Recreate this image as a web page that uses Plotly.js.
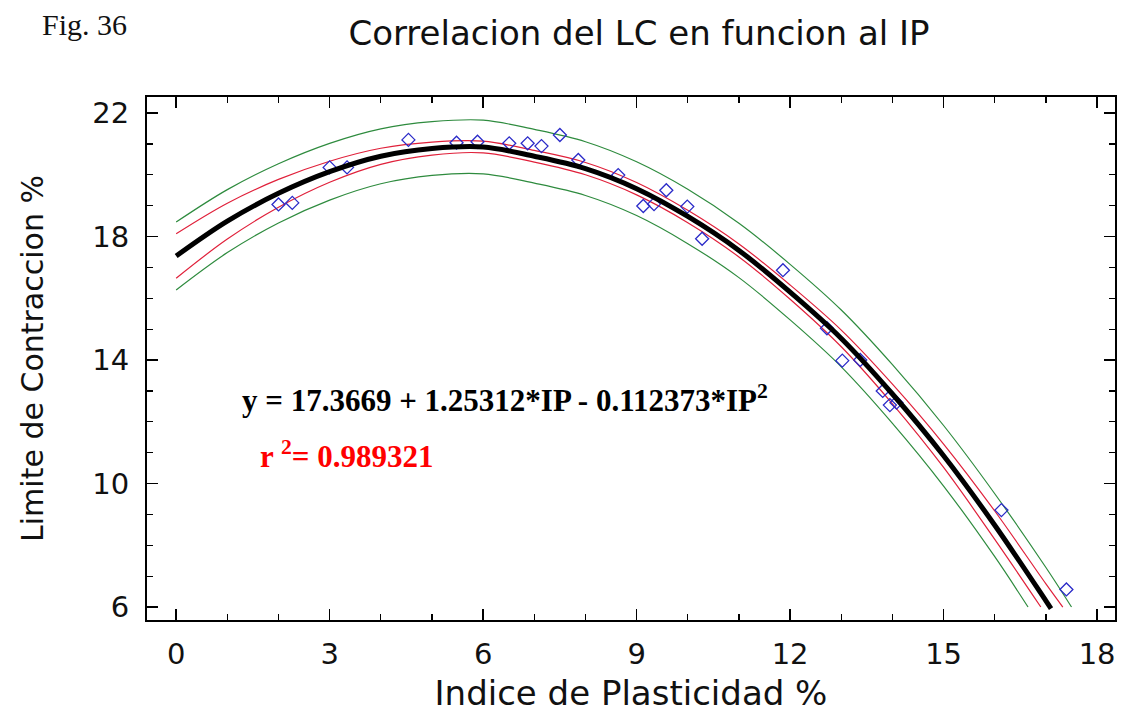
<!DOCTYPE html>
<html>
<head>
<meta charset="utf-8">
<script src="https://cdn.plot.ly/plotly-3.0.1.min.js"></script>
<style>html,body{margin:0;padding:0;background:#fff;}#chart{width:1136px;height:718px;}</style>
</head>
<body>
<div id="chart"></div>
<script>
// Observed data points (IP %, LC %)
const ptsIP = [2.0, 2.27, 3.0, 3.34, 4.54, 5.48, 5.89, 6.51, 6.87, 7.14, 7.5, 7.86, 8.64, 9.13, 9.34, 9.58, 9.99, 10.28, 11.86, 12.72, 13.02, 13.37, 13.81, 13.95, 14.08, 16.13, 17.4];
const ptsLC = [19.04, 19.09, 20.24, 20.24, 21.13, 21.04, 21.07, 21.02, 21.02, 20.93, 21.29, 20.48, 19.99, 18.99, 19.05, 19.5, 18.97, 17.93, 16.91, 15.03, 13.98, 14.0, 13.0, 12.54, 12.62, 9.14, 6.57];

// Fitted curve
const fitX = [0,1,2,3,4,5,6,7,8,9,10,11,12,13,14,15,16,17,17.1];
const fitY = [17.37,18.5,19.4,20.1,20.6,20.85,20.9,20.6,20.2,19.55,18.65,17.55,16.2,14.7,12.9,10.9,8.65,6.2,5.95];

// Confidence limits (red)
const confUpX = [0,1,2,3,4,5,6,7,8,9,10,11,12,13,14,15,16,17,17.33];
const confUpY = [18.09,19.08,19.85,20.44,20.86,21.06,21.09,20.79,20.4,19.75,18.85,17.76,16.43,14.97,13.22,11.28,9.11,6.75,6.0];
const confLoX = [0,1,2,3,4,5,6,7,8,9,10,11,12,13,14,15,16,16.9];
const confLoY = [16.65,17.92,18.95,19.76,20.34,20.64,20.71,20.41,20.0,19.35,18.45,17.34,15.97,14.43,12.58,10.52,8.19,6.0];

// Prediction limits (green)
const predUpX = [0,1,2,3,4,5,6,7,8,9,10,11,12,13,14,15,16,17,17.5];
const predUpY = [18.47,19.52,20.36,21.02,21.49,21.72,21.77,21.47,21.07,20.42,19.53,18.43,17.1,15.62,13.85,11.88,9.67,7.28,6.0];
const predLoX = [0,1,2,3,4,5,6,7,8,9,10,11,12,13,14,15,16,16.65];
const predLoY = [16.27,17.48,18.44,19.18,19.71,19.98,20.03,19.73,19.33,18.68,17.77,16.67,15.3,13.78,11.95,9.92,7.63,6.0];

const xTicks = [0,3,6,9,12,15,18];
const yTicks = [6,10,14,18,22];

const green = '#2e8b3e';
const red = '#e0203a';

const traces = [
  {x: predUpX, y: predUpY, mode:'lines', line:{color:green, width:1.2, shape:'spline'}, hoverinfo:'skip'},
  {x: predLoX, y: predLoY, mode:'lines', line:{color:green, width:1.2, shape:'spline'}, hoverinfo:'skip'},
  {x: confUpX, y: confUpY, mode:'lines', line:{color:red, width:1.2, shape:'spline'}, hoverinfo:'skip'},
  {x: confLoX, y: confLoY, mode:'lines', line:{color:red, width:1.2, shape:'spline'}, hoverinfo:'skip'},
  {x: ptsIP, y: ptsLC, mode:'markers', marker:{symbol:'diamond-open', size:10, color:'#2a2ac8', line:{width:1.3, color:'#2a2ac8'}}},
  {x: fitX, y: fitY, mode:'lines', line:{color:'#000', width:5, shape:'spline'}, hoverinfo:'skip'}
];

const fam = 'DejaVu Sans, Arial, sans-serif';
const tickFont = {family:fam, size:29, color:'#111'};

const layout = {
  width:1136, height:718,
  paper_bgcolor:'#fff', plot_bgcolor:'#fff',
  showlegend:false,
  margin:{l:147, r:21, t:97, b:98},
  title:{text:'Correlacion del LC en funcion al IP', font:{family:fam, size:34, color:'#111'}, x:0.5625, xanchor:'center', y:0.954, yanchor:'middle'},
  xaxis:{
    range:[-0.57, 18.35], tickvals:xTicks, ticktext:xTicks.map(String),
    ticks:'inside', ticklen:11, tickwidth:1.5, tickcolor:'#000',
    showline:true, linecolor:'#000', linewidth:2, mirror:'allticks',
    showgrid:false, zeroline:false,
    minor:{dtick:1, tick0:0, ticks:'inside', ticklen:6, tickwidth:1.2, tickcolor:'#000', showgrid:false},
    tickfont:tickFont, ticklabelstandoff:7,
    title:{text:'Indice de Plasticidad %', font:{family:fam, size:34, color:'#111'}, standoff:11}
  },
  yaxis:{
    range:[5.58, 22.52], tickvals:yTicks, ticktext:yTicks.map(String),
    ticks:'inside', ticklen:11, tickwidth:1.5, tickcolor:'#000',
    showline:true, linecolor:'#000', linewidth:2, mirror:'allticks',
    showgrid:false, zeroline:false,
    minor:{dtick:1, tick0:0, ticks:'inside', ticklen:6, tickwidth:1.2, tickcolor:'#000', showgrid:false},
    tickfont:tickFont, ticklabelstandoff:10,
    title:{text:'Limite de Contraccion %', font:{family:fam, size:30, color:'#111'}, standoff:40}
  },
  annotations:[
    {xref:'paper', yref:'paper', x:-0.111, y:1.138, xanchor:'left', yanchor:'middle', showarrow:false,
     text:'Fig. 36', font:{family:'Liberation Serif, Times New Roman, serif', size:30, color:'#111'}},
    {xref:'x', yref:'y', x:1.25, y:12.75, xanchor:'left', yanchor:'middle', showarrow:false,
     text:'<b>y = 17.3669 + 1.25312*IP - 0.112373*IP<sup>2</sup></b>', font:{family:'Liberation Serif, Times New Roman, serif', size:31, color:'#000'}},
    {xref:'x', yref:'y', x:1.6, y:10.95, xanchor:'left', yanchor:'middle', showarrow:false,
     text:'<b>r <sup>2</sup>= 0.989321</b>', font:{family:'Liberation Serif, Times New Roman, serif', size:31, color:'#ff0000'}}
  ]
};

Plotly.newPlot('chart', traces, layout, {staticPlot:true, displayModeBar:false});
</script>
</body>
</html>
